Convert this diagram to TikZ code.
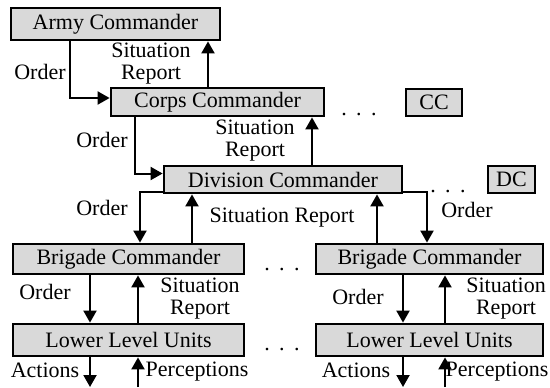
\documentclass[tikz,border=0pt]{standalone}
\usepackage{fontspec}
\setmainfont{Liberation Serif}
\usetikzlibrary{arrows.meta}

\tikzset{
  cmdbox/.style={draw, line width=1.4pt, fill=black!15, inner sep=0pt, font=\fontsize{11}{11}\selectfont},
  arr/.style={line width=1pt, -{Triangle[width=6.5pt,length=6pt]}},
  lbl/.style={inner sep=0pt, align=center, font=\fontsize{11}{11}\selectfont},
  dots/.style={inner sep=0pt, anchor=base, font=\fontsize{11}{11}\selectfont}
}
\newcommand{\threedots}{.\hspace{0.43em}.\hspace{0.43em}.}

\begin{document}
\begin{tikzpicture}[x=0.5pt,y=0.5pt,yscale=-1,xscale=1]
\useasboundingbox (0,0) rectangle (550,387);

%Boxes
\node[cmdbox, minimum width=104.5pt, minimum height=16pt] (army) at (115.5,24) {Army Commander};
\node[cmdbox, minimum width=106.5pt, minimum height=14pt] (corps) at (217.5,102) {Corps Commander};
\node[cmdbox, minimum width=28pt, minimum height=13.5pt] (cc) at (434,102.5) {CC};
\node[cmdbox, minimum width=119pt, minimum height=13.5pt] (division) at (283,179.5) {Division Commander};
\node[cmdbox, minimum width=23.5pt, minimum height=13.5pt] (dc) at (511.5,179.5) {DC};
\node[cmdbox, minimum width=115.5pt, minimum height=15pt] (brig1) at (128.5,259) {Brigade Commander};
\node[cmdbox, minimum width=113.5pt, minimum height=15pt] (brig2) at (429.5,259) {Brigade Commander};
\node[cmdbox, minimum width=115.5pt, minimum height=16pt] (low1) at (128.5,340) {Lower Level Units};
\node[cmdbox, minimum width=113.5pt, minimum height=16pt] (low2) at (429.5,340) {Lower Level Units};

%Columns of the connectors
\coordinate (c1) at (70,0);
\coordinate (c2) at (208,0);
\coordinate (c3) at (135,0);
\coordinate (c4) at (312,0);
\coordinate (c5) at (140,0);
\coordinate (c6) at (192,0);
\coordinate (c7) at (427,0);
\coordinate (c8) at (377,0);
\coordinate (c9) at (90,387);
\coordinate (c10) at (138,387);
\coordinate (c11) at (403,387);
\coordinate (c12) at (445,387);

%Connectors
\draw[arr] (army.south -| c1) |- ([yshift=-2pt]corps.west);
\draw[arr] (corps.north -| c2) -- (army.south -| c2);
\draw[arr] (corps.south -| c3) |- ([yshift=-3pt]division.west);
\draw[arr] (division.north -| c4) -- (corps.south -| c4);
\draw[arr] ([yshift=6pt]division.west) -| (brig1.north -| c5);
\draw[arr] (brig1.north -| c6) -- (division.south -| c6);
\draw[arr] ([yshift=6pt]division.east) -| (brig2.north -| c7);
\draw[arr] (brig2.north -| c8) -- (division.south -| c8);
\draw[arr] (brig1.south -| c9) -- (low1.north -| c9);
\draw[arr] (low1.north -| c10) -- (brig1.south -| c10);
\draw[arr] (brig2.south -| c11) -- (low2.north -| c11);
\draw[arr] (low2.north -| c12) -- (brig2.south -| c12);
\draw[arr] (low1.south -| c9) -- (c9);
\draw[arr] (c10) -- (low1.south -| c10);
\draw[arr] (low2.south -| c11) -- (c11);
\draw[arr] (c12) -- (low2.south -| c12);

% Text Node
\node[lbl] (t1) at (40,72) {Order};
\node[lbl] (t2) at (151,64) {Situation\\Report};
\node[lbl] (t3) at (102,140) {Order};
\node[lbl] (t4) at (255,141) {Situation\\Report};
\node[lbl] (t5) at (102,208) {Order};
\node[lbl] (t6) at (282,218) {Situation Report};
\node[lbl] (t7) at (467,210) {Order};
\node[lbl] (t8) at (45,292) {Order};
\node[lbl] (t9) at (200,299) {Situation\\Report};
\node[lbl] (t10) at (358,297) {Order};
\node[lbl] (t11) at (506,299) {Situation\\Report};
\node[lbl] (t12) at (45,370) {Actions};
\node[lbl] (t13) at (197,372) {Perceptions};
\node[lbl] (t14) at (356,370) {Actions};
\node[lbl] (t15) at (497,372) {Perceptions};

% Dots
\node[dots] (d1) at (359,115) {\threedots};
\node[dots] (d2) at (448,192) {\threedots};
\node[dots] (d3) at (282,270) {\threedots};
\node[dots] (d4) at (282,350) {\threedots};

\end{tikzpicture}
\end{document}
